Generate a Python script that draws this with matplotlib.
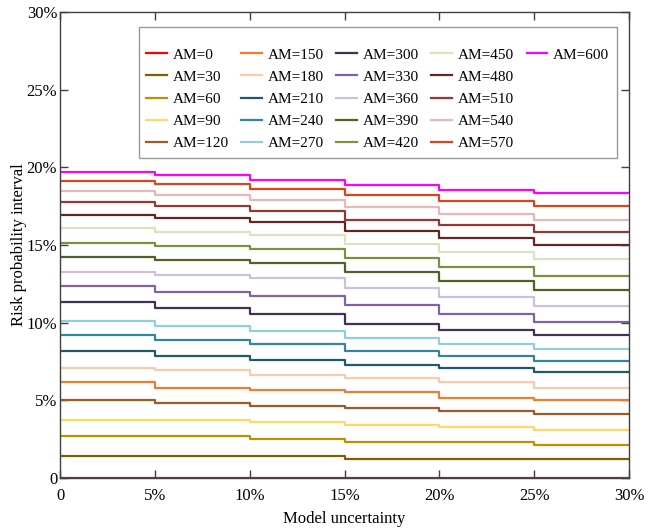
import numpy as np
import matplotlib
matplotlib.use("Agg")
import matplotlib.pyplot as plt
from matplotlib.lines import Line2D

plt.rcParams["font.family"] = ["Liberation Serif", "DejaVu Serif"]

# model uncertainty breakpoints (%)
uncertainty = [0, 5, 10, 15, 20, 25, 30]

am_values = [0, 30, 60, 90, 120, 150, 180, 210, 240, 270, 300,
             330, 360, 390, 420, 450, 480, 510, 540, 570, 600]

# risk probability (%) on each 5% interval of model uncertainty
risk = [
    [0.00, 0.00, 0.00, 0.00, 0.00, 0.00],
    [1.39, 1.39, 1.39, 1.20, 1.20, 1.20],
    [2.68, 2.68, 2.52, 2.30, 2.30, 2.13],
    [3.76, 3.76, 3.59, 3.42, 3.27, 3.08],
    [5.02, 4.80, 4.62, 4.49, 4.30, 4.11],
    [6.17, 5.80, 5.66, 5.52, 5.15, 5.00],
    [7.10, 6.95, 6.65, 6.47, 6.16, 5.82],
    [8.17, 7.85, 7.57, 7.26, 7.10, 6.80],
    [9.20, 8.89, 8.62, 8.17, 7.88, 7.56],
    [10.13, 9.76, 9.45, 9.04, 8.65, 8.32],
    [11.33, 10.95, 10.57, 9.91, 9.50, 9.20],
    [12.33, 11.97, 11.73, 11.11, 10.56, 10.02],
    [13.24, 13.04, 12.85, 12.23, 11.64, 11.10],
    [14.24, 14.05, 13.82, 13.25, 12.69, 12.09],
    [15.14, 14.95, 14.75, 14.15, 13.59, 13.03],
    [16.10, 15.85, 15.63, 15.05, 14.54, 14.07],
    [16.95, 16.71, 16.45, 15.93, 15.44, 14.97],
    [17.76, 17.50, 17.18, 16.61, 16.26, 15.83],
    [18.46, 18.21, 17.89, 17.44, 16.97, 16.60],
    [19.12, 18.90, 18.63, 18.21, 17.81, 17.50],
    [19.72, 19.48, 19.18, 18.84, 18.54, 18.35],
]

colors = ["#ff0000", "#7f6000", "#bf9000", "#ffd966", "#9c5a26",
          "#ed7d31", "#f8cbad", "#215968", "#31859c", "#92cddc",
          "#403152", "#8064a2", "#ccc1da", "#4f6228", "#77933c",
          "#d7e4bd", "#632523", "#953735", "#e6b9b8", "#d9461e",
          "#ff00ff"]

fig = plt.figure(figsize=(6.61, 5.29), dpi=100)
ax = fig.add_axes([0.0908, 0.0964, 0.8608, 0.8809])

handles = []
for am, vals, c in zip(am_values, risk, colors):
    y = vals + [vals[-1]]
    ln, = ax.step(uncertainty, y, where="post", color=c, lw=1.6,
                  label=f"AM={am}")
    handles.append(ln)

# pad the last legend column so items fill columns of five
blank = [Line2D([], [], linestyle="none") for _ in range(4)]
labels = [h.get_label() for h in handles] + [""] * 4

ax.set_xlim(0, 30)
ax.set_ylim(0, 30)
ticks = [0, 5, 10, 15, 20, 25, 30]
tick_labels = ["0", "5%", "10%", "15%", "20%", "25%", "30%"]
ax.set_xticks(ticks)
ax.set_xticklabels(tick_labels)
ax.set_yticks(ticks)
ax.set_yticklabels(tick_labels)
ax.tick_params(direction="in", top=True, right=True, labelsize=12,
               length=6, width=1, color="#404040")
ax.tick_params(axis="x", pad=7)
ax.tick_params(axis="y", pad=2)
for s in ax.spines.values():
    s.set_color("#404040")
    s.set_linewidth(1)

ax.set_xlabel("Model uncertainty", fontsize=12, labelpad=5)
ax.set_ylabel("Risk probability interval", fontsize=12, labelpad=-0.5)

leg = ax.legend(handles + blank, labels, ncol=5, loc="upper right",
                bbox_to_anchor=(0.979, 0.968), fontsize=11, frameon=True,
                fancybox=False, edgecolor="#808080", handlelength=1.35,
                handletextpad=0.4, columnspacing=0.8, labelspacing=0.55,
                borderpad=0.5, borderaxespad=0, title=" ",
                title_fontsize=4)
leg.get_frame().set_linewidth(1)

fig.savefig("out.png", dpi=100)
